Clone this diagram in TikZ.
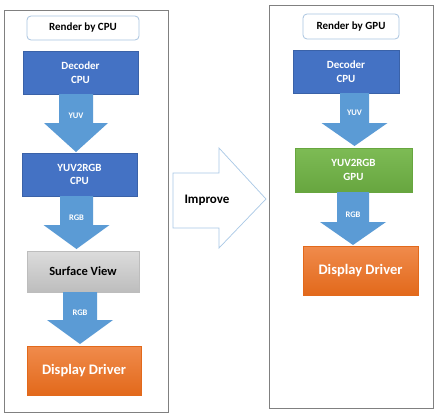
\documentclass[tikz,border=0pt]{standalone}
\usepackage{fontspec}
\setmainfont{Carlito}
\definecolor{panelgray}{HTML}{808080}
\definecolor{titleblue}{HTML}{A9C4E0}
\definecolor{boxblue}{HTML}{4472C4}
\definecolor{boxblueedge}{HTML}{3A62A8}
\definecolor{arrowblue}{HTML}{5B9BD5}
\definecolor{greentop}{HTML}{7DBB55}
\definecolor{greenbot}{HTML}{67A63F}
\definecolor{orangetop}{HTML}{F08B4C}
\definecolor{orangebot}{HTML}{E2691B}
\definecolor{greytop}{HTML}{DCDCDC}
\definecolor{greybot}{HTML}{BDBDBD}
\definecolor{improveedge}{HTML}{A9C8E6}
\newcommand{\blockarr}[6]{%
  \fill[arrowblue] (#1-#5,#2) -- (#1+#5,#2) -- (#1+#5,#3) -- (#1+#6,#3) -- (#1,#4) -- (#1-#6,#3) -- (#1-#5,#3) -- cycle;}
\begin{document}
\begin{tikzpicture}[x=1pt,y=-1pt,
  panel/.style={draw=panelgray,line width=0.8pt,fill=white,inner sep=0},
  titlebox/.style={draw=titleblue,rounded corners=4pt,line width=0.8pt,fill=white,inner sep=0,
    font=\bfseries\fontsize{11}{13}\selectfont},
  bluebox/.style={fill=boxblue,draw=boxblueedge,line width=0.5pt,text=white,align=center,inner sep=0,
    font=\bfseries\fontsize{11}{13.5}\selectfont},
  greenbox/.style={top color=greentop,bottom color=greenbot,draw=greenbot,line width=0.3pt,text=white,align=center,inner sep=0,
    font=\bfseries\fontsize{11}{13.5}\selectfont},
  greybox/.style={top color=greytop,bottom color=greybot,draw=greybot,line width=0.3pt,text=black,inner sep=0,
    font=\bfseries\fontsize{12.5}{14}\selectfont},
  orangebox/.style={top color=orangetop,bottom color=orangebot,draw=orangebot,line width=0.3pt,text=white,inner sep=0,
    font=\bfseries\fontsize{14.5}{16}\selectfont},
  arrlabel/.style={text=white,inner sep=0,font=\bfseries\fontsize{8.5}{10}\selectfont},
]
\useasboundingbox[fill=white] (0,0) rectangle (438,415);

% panels
\node[panel,minimum width=164pt,minimum height=402pt] (panelL) at (86,211) {};
\node[panel,minimum width=164pt,minimum height=403pt] (panelR) at (351,206.5) {};

% left column
\node[titlebox,minimum width=112pt,minimum height=24pt] (titleL) at (83,28) {Render by CPU};
\node[bluebox,minimum width=115pt,minimum height=43pt] (decL) at (80.5,72.5) {Decoder\\CPU};
\node[bluebox,minimum width=115pt,minimum height=43pt] (convL) at (79.5,174.5) {YUV2RGB\\CPU};
\node[greybox,minimum width=112pt,minimum height=41pt] (sv) at (83,271.5) {Surface View};
\node[orangebox,minimum width=114pt,minimum height=49pt] (ddL) at (84,370.5) {Display Driver};

\blockarr{76}{94}{123}{152}{17}{32}
\node[arrlabel] (yuvL) at (76,116) {YUV};
\blockarr{76.5}{196}{225}{249}{16.5}{33}
\node[arrlabel] (rgbL1) at (76.5,218) {RGB};
\blockarr{80}{292}{320}{344}{17}{33}
\node[arrlabel] (rgbL2) at (80,313) {RGB};

% improve arrow
\draw[improveedge,line width=0.7pt,fill=white] (173,173) -- (219,173) -- (219,148) -- (266,199) -- (219,248) -- (219,228) -- (173,228) -- cycle;
\node[inner sep=0,font=\bfseries\fontsize{13}{15}\selectfont] (improve) at (207,200) {Improve};

% right column
\node[titlebox,minimum width=96pt,minimum height=25pt] (titleR) at (351,26.5) {Render by GPU};
\node[bluebox,minimum width=106pt,minimum height=43pt] (decR) at (346,71.5) {Decoder\\CPU};
\node[greenbox,minimum width=117pt,minimum height=44pt] (convR) at (353.5,170) {YUV2RGB\\GPU};
\node[orangebox,minimum width=115pt,minimum height=49pt] (ddR) at (360.5,270.5) {Display Driver};

\blockarr{354.5}{93}{123}{146}{14.5}{33}
\node[arrlabel] (yuvR) at (354.5,113) {YUV};
\blockarr{353}{192}{222}{245}{16}{33}
\node[arrlabel] (rgbR) at (353,215) {RGB};
\end{tikzpicture}
\end{document}
